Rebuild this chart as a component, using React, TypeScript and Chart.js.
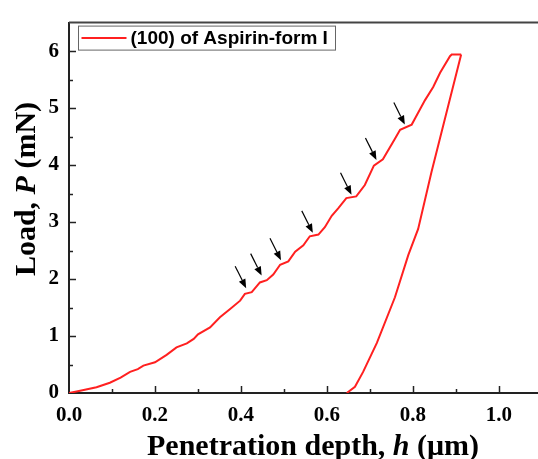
import React, { useEffect, useRef } from 'react';
import { Chart, registerables } from 'chart.js';

Chart.register(...registerables);

// Loading segment (penetration depth in µm, load in mN)
const loadDepth = [
  0, 0.026, 0.064, 0.095, 0.12, 0.142, 0.16, 0.173, 0.2, 0.227, 0.25, 0.274, 0.29, 0.3,
  0.328, 0.351, 0.374, 0.398, 0.409, 0.425, 0.444, 0.46, 0.475, 0.491, 0.51, 0.526, 0.545,
  0.56, 0.58, 0.595, 0.611, 0.626, 0.645, 0.668, 0.688, 0.709, 0.73, 0.757, 0.77, 0.797,
  0.805, 0.828, 0.847, 0.863, 0.886, 0.89, 0.912,
];
const loadForce = [
  0, 0.04, 0.1, 0.18, 0.27, 0.37, 0.42, 0.48, 0.54, 0.67, 0.8, 0.87, 0.95, 1.03,
  1.15, 1.33, 1.47, 1.62, 1.74, 1.77, 1.94, 1.98, 2.08, 2.25, 2.31, 2.48, 2.59,
  2.75, 2.78, 2.91, 3.11, 3.24, 3.42, 3.45, 3.65, 3.99, 4.1, 4.45, 4.62, 4.71,
  4.82, 5.14, 5.37, 5.62, 5.91, 5.94, 5.94,
];
// Unloading segment
const unloadDepth = [0.912, 0.843, 0.812, 0.789, 0.758, 0.716, 0.684, 0.665, 0.646];
const unloadForce = [5.94, 3.88, 2.88, 2.42, 1.68, 0.88, 0.37, 0.11, 0];

const xTicks = [0, 0.2, 0.4, 0.6, 0.8, 1.0];
const yTicks = [0, 1, 2, 3, 4, 5, 6];

// Arrow tips (data coordinates)
const arrowDepth = [0.412, 0.448, 0.493, 0.567, 0.657, 0.715, 0.781];
const arrowLoad = [1.84, 2.06, 2.33, 2.81, 3.48, 4.09, 4.71];

const legendLabel = '(100) of Aspirin-form I';
const RED = 'rgb(255,32,32)';
const SERIF = '"Liberation Serif", "Times New Roman", serif';
const SANS = '"Liberation Sans", Arial, sans-serif';

function drawMixed(ctx: CanvasRenderingContext2D, segs: [string, string][], cx: number, cy: number) {
  let total = 0;
  for (const [t, f] of segs) { ctx.font = f; total += ctx.measureText(t).width; }
  let x = cx - total / 2;
  ctx.textAlign = 'left';
  ctx.textBaseline = 'alphabetic';
  for (const [t, f] of segs) { ctx.font = f; ctx.fillText(t, x, cy); x += ctx.measureText(t).width; }
}

const decorPlugin = {
  id: 'decor',
  afterDatasetsDraw(chart: any) {
    const { ctx, chartArea: a, scales } = chart;
    const xs = scales.x, ys = scales.y;
    ctx.save();
    // top frame
    ctx.strokeStyle = '#444';
    ctx.lineWidth = 2;
    ctx.beginPath(); ctx.moveTo(a.left, a.top); ctx.lineTo(a.right, a.top); ctx.stroke();
    // ticks (inside)
    ctx.strokeStyle = '#222';
    ctx.lineWidth = 1.5;
    for (let i = 1; i <= 10; i++) {
      const px = Math.round(xs.getPixelForValue(i * 0.1)) + 0.5;
      const len = i % 2 === 0 ? 7 : 4;
      ctx.beginPath(); ctx.moveTo(px, a.bottom); ctx.lineTo(px, a.bottom - len); ctx.stroke();
    }
    for (let i = 1; i <= 12; i++) {
      const py = Math.round(ys.getPixelForValue(i * 0.5)) + 0.5;
      const len = i % 2 === 0 ? 7 : 4;
      ctx.beginPath(); ctx.moveTo(a.left, py); ctx.lineTo(a.left + len, py); ctx.stroke();
    }
    // arrows
    ctx.strokeStyle = '#000';
    ctx.fillStyle = '#000';
    for (let i = 0; i < arrowDepth.length; i++) {
      const tx = xs.getPixelForValue(arrowDepth[i]);
      const ty = ys.getPixelForValue(arrowLoad[i]);
      const sx = tx - 11, sy = ty - 22;
      const ang = Math.atan2(ty - sy, tx - sx);
      const hl = 9, hw = 3.6;
      const bx = tx - hl * Math.cos(ang), by = ty - hl * Math.sin(ang);
      ctx.lineWidth = 1.2;
      ctx.beginPath(); ctx.moveTo(sx, sy); ctx.lineTo(bx, by); ctx.stroke();
      ctx.beginPath();
      ctx.moveTo(tx, ty);
      ctx.lineTo(bx + hw * Math.sin(ang), by - hw * Math.cos(ang));
      ctx.lineTo(bx - hw * Math.sin(ang), by + hw * Math.cos(ang));
      ctx.closePath(); ctx.fill();
    }
    // legend
    const lx = a.left + 9.5, ly = a.top + 3.5;
    ctx.strokeStyle = '#666';
    ctx.lineWidth = 1;
    ctx.strokeRect(lx, ly, 257, 24);
    ctx.strokeStyle = RED;
    ctx.lineWidth = 2;
    ctx.beginPath(); ctx.moveTo(lx + 3, ly + 12); ctx.lineTo(lx + 48, ly + 12); ctx.stroke();
    ctx.fillStyle = '#000';
    ctx.font = `bold 19px ${SANS}`;
    ctx.textAlign = 'left';
    ctx.textBaseline = 'middle';
    ctx.fillText(legendLabel, lx + 52, ly + 13);
    // axis titles
    ctx.fillStyle = '#000';
    drawMixed(ctx, [
      ['Penetration depth, ', `bold 30px ${SERIF}`],
      ['h', `italic bold 30px ${SERIF}`],
      [' (\u03bcm)', `bold 30px ${SERIF}`],
    ], 313, 455);
    ctx.save();
    ctx.translate(35, 189);
    ctx.rotate(-Math.PI / 2);
    drawMixed(ctx, [
      ['Load, ', `bold 30px ${SERIF}`],
      ['P', `italic bold 30px ${SERIF}`],
      [' (mN)', `bold 30px ${SERIF}`],
    ], 0, 0);
    ctx.restore();
    ctx.restore();
  },
};

export default function App() {
  const ref = useRef<HTMLCanvasElement>(null);
  useEffect(() => {
    document.body.style.margin = '0';
    const tickFont = { family: SERIF, size: 21, weight: 'bold' as const };
    const chart = new Chart(ref.current!, {
      type: 'line',
      data: {
        datasets: [
          {
            label: legendLabel,
            data: loadDepth.map((x, i) => ({ x, y: loadForce[i] })),
            borderColor: RED,
            borderWidth: 2,
            pointRadius: 0,
            tension: 0,
          },
          {
            label: 'unload',
            data: unloadDepth.map((x, i) => ({ x, y: unloadForce[i] })),
            borderColor: RED,
            borderWidth: 2,
            pointRadius: 0,
            tension: 0,
          },
        ],
      },
      options: {
        animation: false,
        responsive: false,
        layout: { padding: { top: 14, right: 0, left: 0, bottom: 0 } },
        plugins: { legend: { display: false }, tooltip: { enabled: false } },
        scales: {
          x: {
            type: 'linear',
            min: 0,
            max: 1.0907,
            afterBuildTicks: (s: any) => { s.ticks = xTicks.map((v) => ({ value: v })); },
            afterFit: (s: any) => { s.height = 66; },
            grid: { display: false, drawTicks: false },
            border: { display: true, color: '#222', width: 2 },
            ticks: {
              color: '#000',
              font: tickFont,
              padding: 10,
              maxRotation: 0,
              autoSkip: false,
              callback: (v: any) => Number(v).toFixed(1),
            },
          },
          y: {
            type: 'linear',
            min: 0,
            max: 6.5,
            afterBuildTicks: (s: any) => { s.ticks = yTicks.map((v) => ({ value: v })); },
            afterFit: (s: any) => { s.width = 69; },
            grid: { display: false, drawTicks: false },
            border: { display: true, color: '#222', width: 2 },
            ticks: {
              color: '#000',
              font: tickFont,
              padding: 10,
              autoSkip: false,
              callback: (v: any) => String(v),
            },
          },
        },
      },
      plugins: [decorPlugin],
    });
    return () => chart.destroy();
  }, []);
  return (
    <div style={{ position: 'fixed', left: 0, top: 0, width: 538, height: 459, background: '#fff' }}>
      <canvas ref={ref} width={538} height={459} style={{ display: 'block' }} />
    </div>
  );
}
